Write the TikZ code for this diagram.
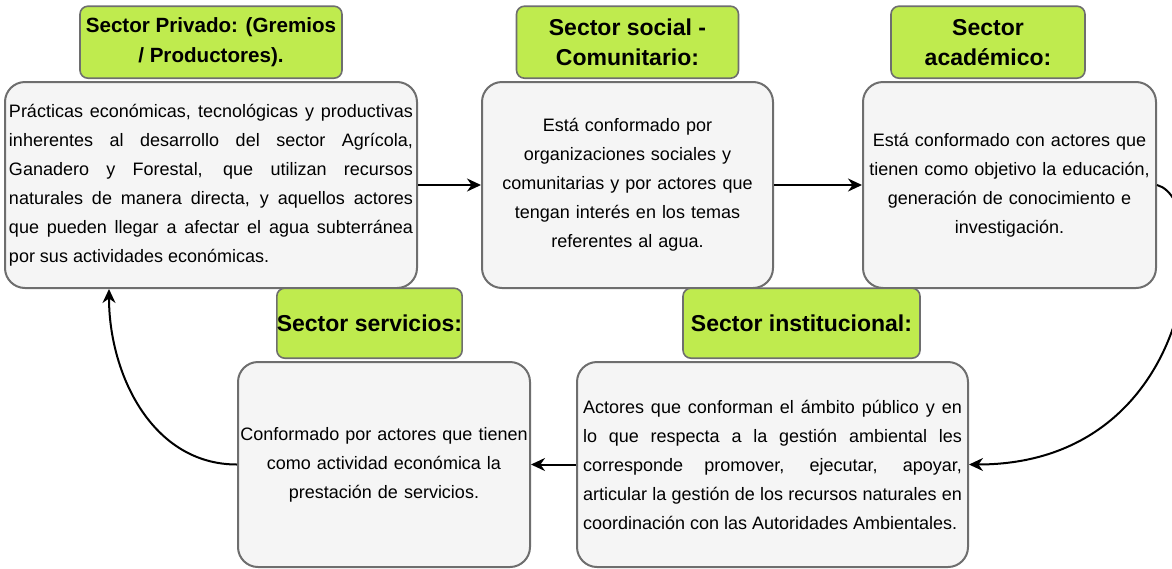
\documentclass[tikz,border=0pt]{standalone}
\usepackage{fontspec}
\setmainfont{Liberation Sans}
\usepackage{xcolor}
\usepackage{tikz}
\usetikzlibrary{arrows.meta}
\usetikzlibrary{positioning}

\definecolor{titelgruen}{RGB}{191,235,78}
\definecolor{feldgrau}{RGB}{245,245,245}
\definecolor{randgrau}{RGB}{110,110,110}

\begin{document}
\begin{tikzpicture}
    [
      x=0.5pt, y=-0.5pt,
      % Stil für Titel
      titel/.style={rectangle, rounded corners=4pt, fill=titelgruen, draw=randgrau, line width=0.8pt,
        align=center, inner sep=0pt, font=\bfseries\fontsize{11.5}{15}\selectfont},
      % Stil für Textfelder
      feld/.style={rectangle, rounded corners=10pt, fill=feldgrau, draw=randgrau, line width=1pt,
        inner sep=0pt, minimum height=103pt, font=\fontsize{9}{14.5}\selectfont},
      % Stil für Pfeile
      >={Stealth[length=7pt, width=6.5pt]},
      pfeil/.style={->, line width=1pt},
      node distance=1pt]
    \useasboundingbox (0,0) rectangle (1172,568);

    % Knoten
    \node[feld, minimum width=206pt, text width=202pt, align=justify] (privado) at (211,185)
      {Prácticas económicas, tecnológicas y productivas\linebreak
       inherentes al desarrollo del sector Agrícola,\linebreak
       Ganadero y Forestal, que utilizan recursos\linebreak
       naturales de manera directa, y aquellos actores\linebreak
       que pueden llegar a afectar el agua subterránea\linebreak
       por sus actividades económicas.};
    \node[feld, minimum width=145.5pt, text width=142pt, align=center] (social) at (627.5,185)
      {Está conformado por\\ organizaciones sociales y\\ comunitarias y por actores que\\
       tengan interés en los temas\\ referentes al agua.};
    \node[feld, minimum width=146.5pt, text width=146pt, align=center] (academico) at (1009.5,185)
      {Está conformado con actores que\\ tienen como objetivo la educación,\\
       generación de conocimiento e\\ investigación.};
    \node[feld, minimum width=146pt, text width=146pt, align=center, minimum height=102.5pt] (servicios) at (384,464.5)
      {Conformado por actores que tienen\\ como actividad económica la\\ prestación de servicios.};
    \node[feld, minimum width=195.5pt, text width=189.5pt, align=justify, minimum height=102.5pt] (institucional) at (772.5,464.5)
      {Actores que conforman el ámbito público y en\linebreak
       lo que respecta a la gestión ambiental les\linebreak
       corresponde promover, ejecutar, apoyar,\linebreak
       articular la gestión de los recursos naturales en\linebreak
       coordinación con las Autoridades Ambientales.};

    \node[titel, minimum width=131pt, minimum height=36pt, font=\bfseries\fontsize{10.3}{15}\selectfont,
      above=of privado] (tprivado) {Sector Privado: (Gremios\\ / Productores).};
    \node[titel, minimum width=111pt, minimum height=36pt, above=of social] (tsocial)
      {Sector social -\\ Comunitario:};
    \node[titel, minimum width=97pt, minimum height=36pt, above=of academico, xshift=-10.75pt] (tacademico)
      {Sector\\ académico:};
    \node[titel, minimum width=87.5pt, minimum height=35pt, above=of servicios, xshift=-7.25pt] (tservicios)
      {Sector servicios:};
    \node[titel, minimum width=118.5pt, minimum height=35pt, above=of institucional, xshift=14.5pt] (tinstitucional)
      {Sector institucional:};

    % Kanten
    \path[pfeil]
      (privado) edge (social)
      (social) edge (academico)
      (institucional) edge (servicios);
    \draw[pfeil] (academico.east) to[out=-15, in=0, out distance=30pt, in distance=115pt] (institucional.east);
    \draw[pfeil] (servicios.west) to[out=180, in=-90] ([xshift=52.5pt]privado.south west);
\end{tikzpicture}
\end{document}
